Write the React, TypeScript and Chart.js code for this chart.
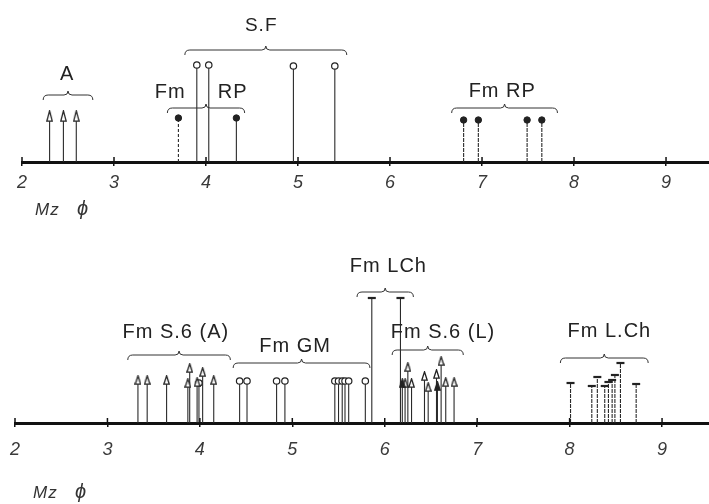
import React, { useEffect, useRef } from 'react';
import { Chart, registerables } from 'chart.js';
Chart.register(...registerables);

const FONT = '"Liberation Sans", "DejaVu Sans", Arial, sans-serif';
const INK = '#222';

// ---------- top panel data ----------
const topMax = 9.467;
const topA_x = [2.30, 2.45, 2.59];
const topA_h = [46, 46, 46];
const topRPdash_x = [3.70];
const topRPdash_h = [44];
const topRPleft_x = [4.33];
const topRPleft_h = [44];
const topSF_x = [3.90, 4.03, 4.95, 5.40];
const topSF_h = [97, 97, 96, 96];
const topRPright_x = [6.80, 6.96, 7.49, 7.65];
const topRPright_h = [42, 42, 42, 42];

// ---------- bottom panel data ----------
const botMax = 9.508;
const botS6A_x = [3.33, 3.43, 3.64, 3.87, 3.89, 3.97, 4.03, 4.15];
const botS6A_h = [43, 43, 43, 40, 55, 41, 51, 43];
const botS6Acirc_x = [3.99];
const botS6Acirc_h = [40];
const botGM_x = [4.43, 4.51, 4.83, 4.92, 5.46, 5.50, 5.54, 5.57, 5.61, 5.79];
const botGM_h = [42, 42, 42, 42, 42, 42, 42, 42, 42, 42];
const botLCh_x = [5.86, 6.17];
const botLCh_h = [125, 125];
const botS6L_x = [6.22, 6.25, 6.29, 6.43, 6.47, 6.56, 6.61, 6.66, 6.75];
const botS6L_h = [40, 56, 40, 47, 36, 49, 62, 41, 41];
const botS6Lfill_x = [6.19, 6.57];
const botS6Lfill_h = [40, 37];
const botLCh2_x = [8.01, 8.24, 8.30, 8.38, 8.42, 8.46, 8.49, 8.55, 8.72];
const botLCh2_h = [40, 37, 46, 37, 41, 43, 48, 60, 39];

// ---------- annotations (braces & group labels) ----------
const topBraces = [
  { from: 2.23, to: 2.77, y: 67 },
  { from: 3.77, to: 5.53, y: 112 },
  { from: 3.58, to: 4.42, y: 54 },
  { from: 6.67, to: 7.82, y: 54 },
];
const topLabels = [
  { text: 'A', x: 2.49, y: 82, size: 20 },
  { text: 'S.F', x: 4.60, y: 131, size: 19 },
  { text: 'Fm', x: 3.61, y: 64, size: 20 },
  { text: 'RP', x: 4.29, y: 64, size: 20 },
  { text: 'Fm RP', x: 7.22, y: 65, size: 20 },
];
const botBraces = [
  { from: 3.22, to: 4.33, y: 68 },
  { from: 4.36, to: 5.84, y: 60 },
  { from: 5.70, to: 6.31, y: 131 },
  { from: 6.08, to: 6.85, y: 73 },
  { from: 7.90, to: 8.85, y: 65 },
];
const botLabels = [
  { text: 'Fm S.6 (A)', x: 3.74, y: 85, size: 20 },
  { text: 'Fm GM', x: 5.03, y: 71, size: 20 },
  { text: 'Fm LCh', x: 6.04, y: 151, size: 20 },
  { text: 'Fm S.6 (L)', x: 6.63, y: 85, size: 20 },
  { text: 'Fm L.Ch', x: 8.43, y: 86, size: 20 },
];

function pts(xs: number[], hs: number[]) {
  return xs.map((x, i) => ({ x, y: hs[i] }));
}

function makeArrow(w: number, h: number, filled: boolean) {
  const c = document.createElement('canvas');
  c.width = w;
  c.height = h;
  const g = c.getContext('2d')!;
  g.beginPath();
  g.moveTo(w / 2, 0.8);
  g.lineTo(w - 0.8, h - 0.8);
  g.lineTo(0.8, h - 0.8);
  g.closePath();
  g.fillStyle = filled ? INK : '#fff';
  g.fill();
  g.lineWidth = 1.3;
  g.strokeStyle = INK;
  g.stroke();
  return c;
}

function drawBrace(ctx: CanvasRenderingContext2D, x1: number, x2: number, y: number) {
  const xm = (x1 + x2) / 2;
  const e = 5;
  ctx.beginPath();
  ctx.moveTo(x1, y + e);
  ctx.quadraticCurveTo(x1, y, x1 + e, y);
  ctx.lineTo(xm - 4, y);
  ctx.quadraticCurveTo(xm, y, xm, y - 4);
  ctx.quadraticCurveTo(xm, y, xm + 4, y);
  ctx.lineTo(x2 - e, y);
  ctx.quadraticCurveTo(x2, y, x2, y + e);
  ctx.stroke();
}

type Ann = { braces: any[]; labels: any[]; mzX: number; mzY: number };

function buildConfig(datasets: any[], max: number, yMax: number, padLeft: number, axisH: number, tickPad: number, ann: Ann) {
  const stemPlugin = {
    id: 'stems',
    beforeDatasetsDraw(chart: any) {
      const ctx = chart.ctx;
      const y0 = chart.scales.y.getPixelForValue(0);
      chart.data.datasets.forEach((ds: any, i: number) => {
        const meta = chart.getDatasetMeta(i);
        ctx.save();
        ctx.strokeStyle = '#2a2a2a';
        ctx.lineWidth = 1.1;
        ctx.setLineDash(ds.stemDash || []);
        meta.data.forEach((el: any) => {
          ctx.beginPath();
          ctx.moveTo(el.x, y0);
          ctx.lineTo(el.x, el.y);
          ctx.stroke();
        });
        ctx.restore();
      });
    },
  };
  const annPlugin = {
    id: 'ann',
    afterDraw(chart: any) {
      const ctx = chart.ctx;
      const xs = chart.scales.x;
      const ys = chart.scales.y;
      const y0 = ys.getPixelForValue(0);
      ctx.save();
      ctx.strokeStyle = '#111';
      ctx.lineWidth = 1.5;
      xs.ticks.forEach((t: any) => {
        const px = xs.getPixelForValue(t.value);
        ctx.beginPath();
        ctx.moveTo(px, y0 - 5);
        ctx.lineTo(px, y0);
        ctx.stroke();
      });
      ctx.strokeStyle = '#333';
      ctx.lineWidth = 1;
      ann.braces.forEach((b) => {
        drawBrace(ctx, xs.getPixelForValue(b.from), xs.getPixelForValue(b.to), ys.getPixelForValue(b.y));
      });
      ctx.fillStyle = '#222';
      ctx.textAlign = 'center';
      ctx.textBaseline = 'alphabetic';
      ann.labels.forEach((l) => {
        ctx.font = `${l.size}px ${FONT}`;
        (ctx as any).letterSpacing = '1px';
        ctx.fillText(l.text, xs.getPixelForValue(l.x), ys.getPixelForValue(l.y));
      });
      (ctx as any).letterSpacing = '1px';
      ctx.textAlign = 'left';
      ctx.font = `italic 17px ${FONT}`;
      ctx.fillStyle = '#333';
      ctx.fillText('Mz', ann.mzX, ann.mzY);
      ctx.font = `italic 20px ${FONT}`;
      ctx.fillText('ϕ', ann.mzX + 42, ann.mzY);
      ctx.restore();
    },
  };
  return {
    type: 'scatter',
    data: { datasets },
    options: {
      animation: false,
      responsive: false,
      events: [],
      layout: { autoPadding: false, padding: { left: padLeft, right: 0, top: 0, bottom: 0 } },
      plugins: { legend: { display: false }, tooltip: { enabled: false } },
      scales: {
        x: {
          type: 'linear',
          min: 2,
          max,
          border: { display: true, width: 3, color: '#111' },
          grid: { drawOnChartArea: false, drawTicks: true, tickLength: 4, color: '#111', lineWidth: 1.5 },
          ticks: {
            stepSize: 1,
            includeBounds: false,
            autoSkip: false,
            maxRotation: 0,
            padding: tickPad,
            color: '#3a3a3a',
            font: { family: FONT, size: 18, style: 'italic' },
          },
          afterFit: (s: any) => {
            s.height = axisH;
            s.paddingLeft = 0;
            s.paddingRight = 0;
          },
        },
        y: { display: false, min: 0, max: yMax },
      },
    },
    plugins: [stemPlugin, annPlugin],
  } as any;
}

function Panel(props: { top: number; height: number; make: () => any }) {
  const ref = useRef<HTMLCanvasElement>(null);
  useEffect(() => {
    const chart = new Chart(ref.current!, props.make());
    return () => chart.destroy();
  }, []);
  return (
    <canvas
      ref={ref}
      width={709}
      height={props.height}
      style={{ position: 'absolute', left: 0, top: props.top, width: 709, height: props.height }}
    />
  );
}

const openCircle = { pointStyle: 'circle', radius: 3.2, backgroundColor: '#fff', borderColor: INK, borderWidth: 1.2 };
const dot = { pointStyle: 'circle', radius: 3.2, backgroundColor: INK, borderColor: INK, borderWidth: 1 };
const tbar = { pointStyle: 'line', radius: 4, borderColor: INK, borderWidth: 2.2, backgroundColor: INK };

function makeTop() {
  const arrow = makeArrow(7, 12, false);
  const datasets = [
    { data: pts(topA_x, topA_h), pointStyle: arrow, radius: 6 },
    { data: pts(topRPdash_x, topRPdash_h), ...dot, stemDash: [3, 2] },
    { data: pts(topRPleft_x, topRPleft_h), ...dot },
    { data: pts(topSF_x, topSF_h), ...openCircle },
    { data: pts(topRPright_x, topRPright_h), ...dot, stemDash: [4, 1] },
  ];
  return buildConfig(datasets, topMax, 162, 22, 78, 6, { braces: topBraces, labels: topLabels, mzX: 35, mzY: 215 });
}

function makeBottom() {
  const arrow = makeArrow(7, 10, false);
  const arrowF = makeArrow(7, 10, true);
  const datasets = [
    { data: pts(botGM_x, botGM_h), ...openCircle },
    { data: pts(botS6A_x, botS6A_h), pointStyle: arrow, radius: 5 },
    { data: pts(botS6Acirc_x, botS6Acirc_h), ...openCircle },
    { data: pts(botLCh_x, botLCh_h), ...tbar },
    { data: pts(botS6Lfill_x, botS6Lfill_h), pointStyle: arrowF, radius: 5 },
    { data: pts(botS6L_x, botS6L_h), pointStyle: arrow, radius: 5 },
    { data: pts(botLCh2_x, botLCh2_h), ...tbar, stemDash: [4, 1] },
  ];
  return buildConfig(datasets, botMax, 183, 15, 81, 12, { braces: botBraces, labels: botLabels, mzX: 33, mzY: 258 });
}

export default function App() {
  return (
    <div style={{ position: 'fixed', left: 0, top: 0, width: 709, height: 504, background: '#fff', overflow: 'hidden' }}>
      <Panel top={0} height={240} make={makeTop} />
      <Panel top={240} height={264} make={makeBottom} />
    </div>
  );
}
